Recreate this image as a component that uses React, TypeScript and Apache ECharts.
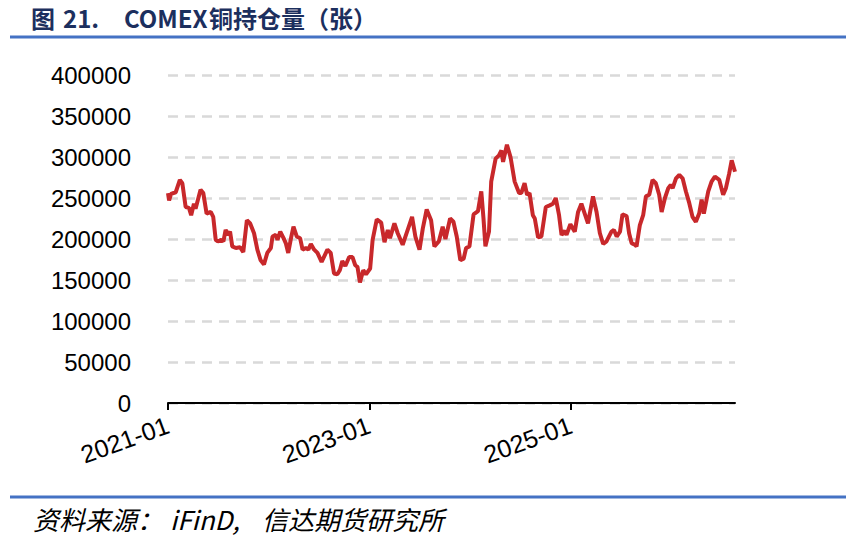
import React, { useEffect, useRef } from "react";
import * as echarts from "echarts";

const dates: string[] = [
  "2021-01-01","2021-01-05","2021-01-12","2021-01-29","2021-02-13","2021-02-22","2021-03-06","2021-03-18","2021-03-26","2021-04-05",
  "2021-04-11","2021-04-29","2021-05-09","2021-05-21","2021-06-05","2021-06-14","2021-06-23","2021-07-01","2021-07-13","2021-07-21",
  "2021-07-29","2021-08-07","2021-08-14","2021-08-22","2021-09-04","2021-09-19","2021-10-01","2021-10-14","2021-10-26","2021-11-09",
  "2021-11-21","2021-12-03","2021-12-15","2021-12-27","2022-01-09","2022-01-15","2022-01-27","2022-02-02","2022-02-12","2022-02-24",
  "2022-03-04","2022-03-13","2022-03-23","2022-04-01","2022-04-13","2022-04-25","2022-05-04","2022-05-16","2022-05-25","2022-06-03",
  "2022-06-15","2022-06-27","2022-07-12","2022-08-02","2022-08-14","2022-08-26","2022-09-07","2022-09-16","2022-09-25","2022-10-06",
  "2022-10-20","2022-11-01","2022-11-11","2022-11-19","2022-11-28","2022-12-10","2022-12-20","2023-01-04","2023-01-13","2023-01-28",
  "2023-02-13","2023-02-25","2023-03-09","2023-03-17","2023-04-02","2023-04-14","2023-05-02","2023-05-14","2023-05-26","2023-06-05",
  "2023-06-17","2023-07-02","2023-07-14","2023-07-28","2023-08-13","2023-08-25","2023-09-10","2023-09-24","2023-10-04","2023-10-21",
  "2023-11-02","2023-11-14","2023-11-27","2023-12-09","2023-12-18","2023-12-30","2024-01-14","2024-01-30","2024-02-11","2024-02-19",
  "2024-02-26","2024-03-10","2024-03-18","2024-04-03","2024-04-15","2024-04-24","2024-04-30","2024-05-14","2024-05-27","2024-06-11",
  "2024-06-27","2024-07-05","2024-07-17","2024-07-26","2024-08-04","2024-08-16","2024-08-23","2024-09-04","2024-09-16","2024-10-02",
  "2024-10-16","2024-10-28","2024-11-07","2024-11-19","2024-11-28","2024-12-10","2024-12-16","2024-12-30","2025-01-15","2025-01-27",
  "2025-02-08","2025-02-20","2025-03-04","2025-03-22","2025-04-04","2025-04-16","2025-04-28","2025-05-10","2025-05-28","2025-06-06",
  "2025-06-16","2025-06-28","2025-07-07","2025-07-22","2025-07-31","2025-08-09","2025-08-21","2025-08-27","2025-09-08","2025-09-20",
  "2025-09-30","2025-10-12","2025-10-24","2025-11-05","2025-11-17","2025-11-26","2025-12-08","2025-12-20","2025-12-29","2026-01-05",
  "2026-01-17","2026-01-29","2026-02-10","2026-02-22","2026-03-06","2026-03-18","2026-03-30","2026-04-11","2026-04-20","2026-04-28",
  "2026-05-08","2026-05-14","2026-05-26","2026-06-07","2026-06-23","2026-07-07","2026-07-17","2026-07-29","2026-08-07","2026-08-19",
];

const holdings: number[] = [
  256000,247000,255000,257000,272000,268000,239000,238000,229000,243000,
  237000,260000,256000,231000,233000,227000,199000,197000,199000,197000,
  211000,205000,209000,191000,189000,190000,184000,223000,219000,207000,
  187000,174000,169000,183000,189000,203000,205000,199000,209000,201000,
  195000,183000,201000,215000,203000,201000,187000,189000,187000,194000,
  187000,183000,172000,187000,183000,158000,157000,162000,173000,167000,
  178000,178000,168000,166000,147000,162000,157000,164000,199000,224000,
  220000,196000,211000,201000,219000,207000,193000,205000,217000,227000,
  203000,187000,213000,236000,223000,191000,197000,215000,200000,225000,
  221000,203000,174000,176000,189000,191000,230000,234000,258000,225000,
  191000,209000,270000,298000,302000,308000,294000,315000,300000,270000,
  256000,256000,268000,254000,256000,229000,225000,202000,203000,239000,
  241000,243000,250000,229000,205000,210000,205000,218000,209000,233000,
  243000,231000,219000,252000,233000,207000,194000,197000,209000,211000,
  203000,209000,230000,228000,207000,195000,193000,191000,217000,229000,
  252000,254000,272000,268000,254000,233000,250000,262000,266000,262000,
  274000,278000,274000,258000,244000,227000,221000,231000,248000,231000,
  248000,258000,270000,276000,272000,254000,262000,280000,296000,282000,
];

const xLabelDates: string[] = ["2021-01-01", "2023-01-01", "2025-01-01"];
const yMin = 0;
const yMax = 400000;
const yStep = 50000;

// title and source pieces (text only; positions live in the graphic block)
const titleParts: string[] = ["图", "21.", "COMEX", "铜持仓量（张）"];
const sourceParts: string[] = ["资料来源：", "iFinD,", "信达期货研究所"];

function toTime(s: string): number {
  const [y, m, d] = s.split("-").map(Number);
  return Date.UTC(y, m - 1, d);
}

function fmtMonth(v: number): string {
  const dt = new Date(v);
  const mm = String(dt.getUTCMonth() + 1).padStart(2, "0");
  return `${dt.getUTCFullYear()}-${mm}`;
}

export default function App() {
  const ref = useRef<HTMLDivElement>(null);
  useEffect(() => {
    if (!ref.current) return;
    const chart = echarts.init(ref.current, null, { renderer: "svg" });
    const data = dates.map((d, i) => [toTime(d), holdings[i]]);
    const ticks = xLabelDates.map(toTime);
    const titleX = [31, 63, 124, 209];
    const sourceX = [33, 170, 262];
    const titleFont = 'bold 24px "Noto Sans CJK SC", sans-serif';
    const sourceFont = 'italic 26px "Noto Sans CJK SC", sans-serif';
    chart.setOption({
      animation: false,
      backgroundColor: "#ffffff",
      grid: { left: 168, right: 111, top: 75, bottom: 137, containLabel: false },
      xAxis: {
        type: "value",
        min: toTime(dates[0]),
        max: toTime(dates[dates.length - 1]),
        axisLine: { show: true, lineStyle: { color: "#000000", width: 2 } },
        axisTick: { show: true, length: 7, lineStyle: { color: "#000000", width: 2 }, customValues: ticks },
        axisLabel: {
          customValues: ticks,
          rotate: 20,
          margin: 21,
          color: "#000000",
          fontSize: 25,
          fontFamily: "Liberation Sans, Arial, sans-serif",
          formatter: (v: number) => fmtMonth(v),
        },
        splitLine: { show: false },
      },
      yAxis: {
        type: "value",
        min: yMin,
        max: yMax,
        interval: yStep,
        axisLine: { show: false },
        axisTick: { show: false },
        axisLabel: {
          margin: 37,
          color: "#000000",
          fontSize: 24,
          fontFamily: "Liberation Sans, Arial, sans-serif",
          formatter: (v: number) => String(v),
        },
        splitLine: { show: true, lineStyle: { color: "#d9d9d9", width: 2.5, type: [10, 7] } },
      },
      series: [
        {
          type: "line",
          data,
          showSymbol: false,
          symbol: "none",
          lineStyle: { color: "#c8282b", width: 4 },
          itemStyle: { color: "#c8282b" },
        },
      ],
      graphic: [
        ...titleParts.map((t, i) => ({
          type: "text",
          left: titleX[i],
          top: 5,
          style: { text: t, fill: "#1c2f5e", font: titleFont },
        })),
        {
          type: "line",
          shape: { x1: 10, y1: 37, x2: 846, y2: 37 },
          style: { stroke: "#4472c4", lineWidth: 3 },
        },
        {
          type: "line",
          shape: { x1: 10, y1: 497, x2: 846, y2: 497 },
          style: { stroke: "#4472c4", lineWidth: 3 },
        },
        ...sourceParts.map((t, i) => ({
          type: "text",
          left: sourceX[i],
          top: 505,
          style: { text: t, fill: "#000000", font: sourceFont },
        })),
      ],
    });
    return () => chart.dispose();
  }, []);
  return (
    <div
      ref={ref}
      style={{ position: "absolute", left: 0, top: 0, width: 846, height: 540 }}
    />
  );
}
